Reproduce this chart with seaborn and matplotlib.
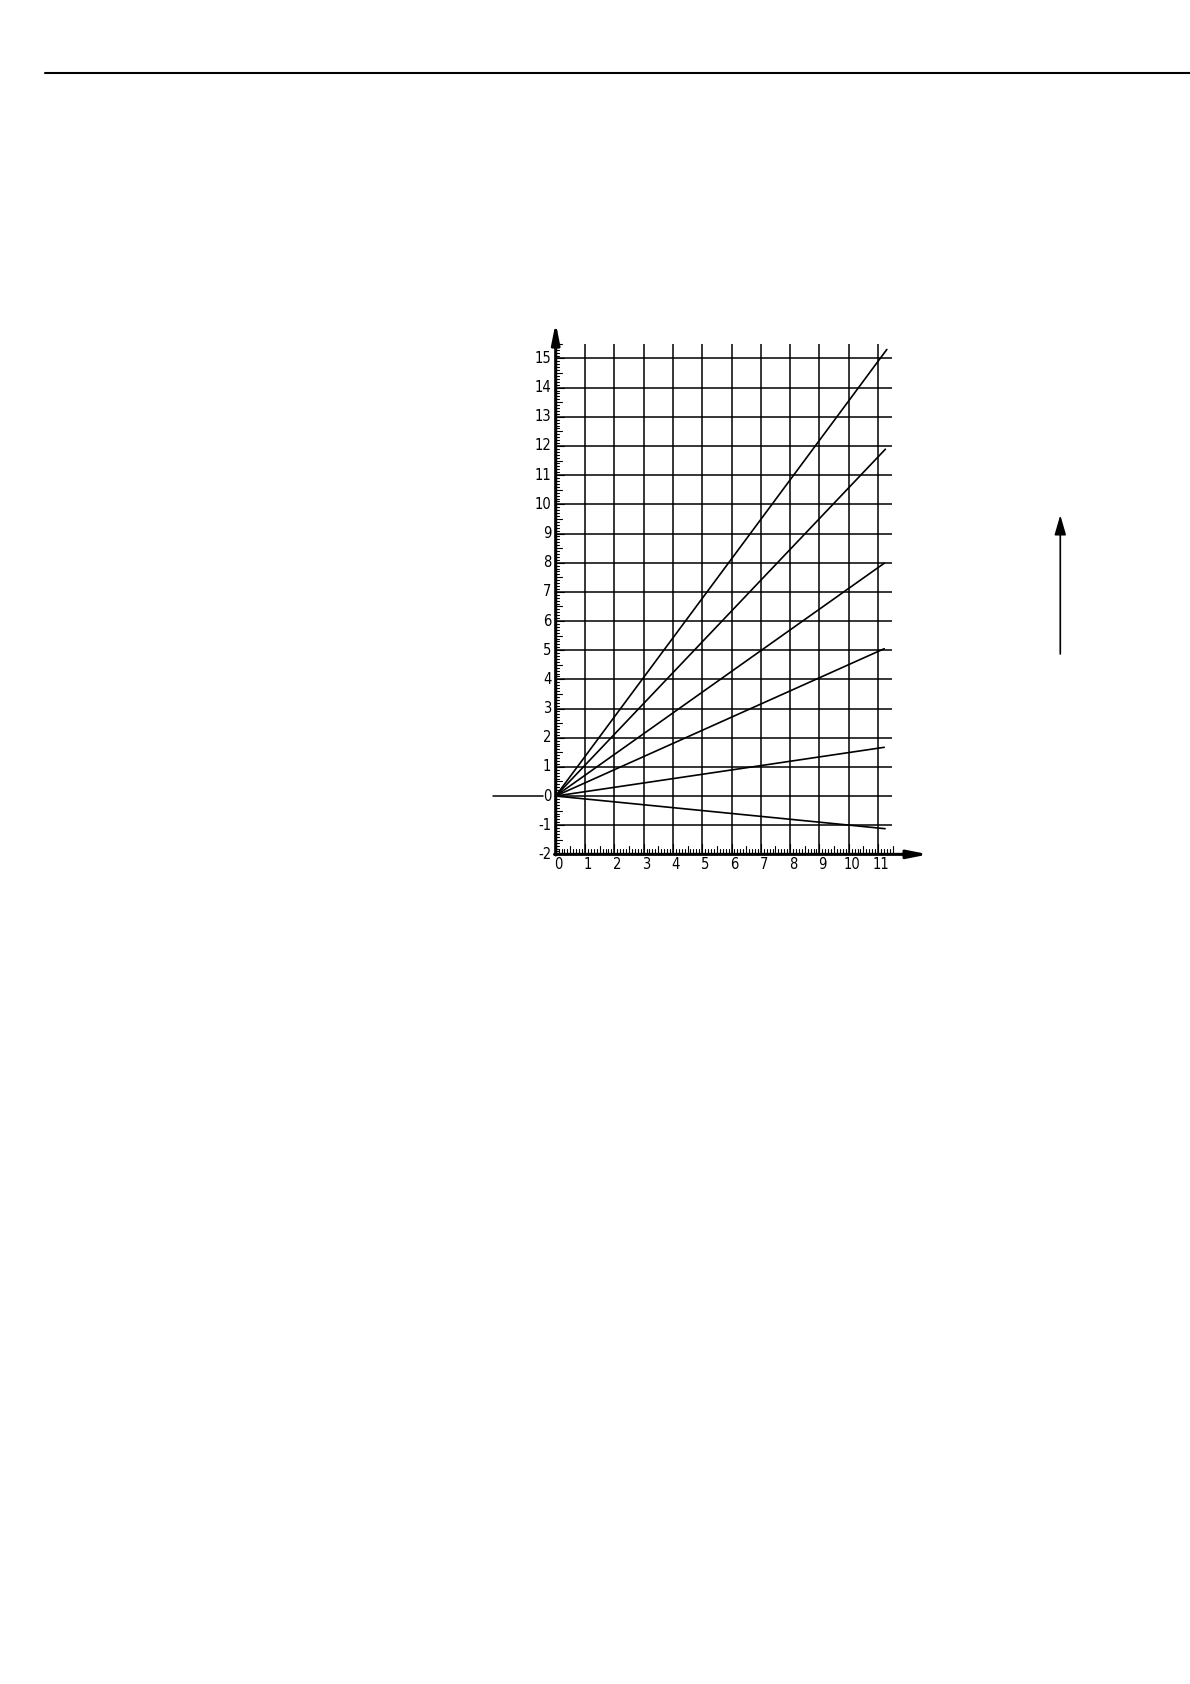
import numpy as np
import pandas as pd
import matplotlib
matplotlib.use("Agg")
import matplotlib.pyplot as plt
from matplotlib import font_manager
import seaborn as sns

# rays from the origin, end points
ray_end_x = [11.30, 11.25, 11.21, 11.21, 11.21, 11.24]
ray_end_y = [15.31, 11.89, 7.98, 5.05, 1.67, -1.12]

x_ticks = list(range(0, 12))
y_ticks = list(range(-2, 16))
x_tick_labels = [str(v) for v in x_ticks]
y_tick_labels = [str(v) for v in y_ticks]

sns.set_theme(style="white")
plt.rcParams["font.family"] = ["DejaVu Sans"]

# narrow face for the digits if one is around
names = {f.name for f in font_manager.fontManager.ttflist}
if "Liberation Sans Narrow" in names:
    digit_font = dict(family="Liberation Sans Narrow", fontsize=11.5)
else:
    digit_font = dict(family="DejaVu Sans", fontsize=10.5, fontstretch="condensed")

fig = plt.figure(figsize=(11.9, 16.84), dpi=100)
fig.patch.set_facecolor("white")

# axes placed so that one unit is ~29 px, origin at (556, 796) px
ax = fig.add_axes([0.4054, 0.4840, 0.3817, 0.3291])
ax.set_xlim(-2.5, 13.0)
ax.set_ylim(-2.5, 16.5)
ax.axis("off")

ink = "black"

# grid
ax.vlines(x_ticks[1:], -2, 15.5, color=ink, lw=1.1, zorder=1)
ax.hlines(y_ticks[1:], 0, 11.47, color=ink, lw=1.1, zorder=1)

# minor ticks along the y axis (inside) and x axis (above)
fine_y = np.round(np.arange(-2, 15.51, 0.1), 2)
for v in fine_y:
    if abs(v - round(v)) < 1e-6:
        ln = 0.30
    elif abs(v * 2 - round(v * 2)) < 1e-6:
        ln = 0.22
    else:
        ln = 0.12
    ax.plot([0, ln], [v, v], color=ink, lw=0.8, zorder=2)
fine_x = np.round(np.arange(0, 11.51, 0.1), 2)
for v in fine_x:
    if abs(v - round(v)) < 1e-6:
        ln = 0.35
    elif abs(v * 2 - round(v * 2)) < 1e-6:
        ln = 0.28
    else:
        ln = 0.17
    ax.plot([v, v], [-2, -2 + ln], color=ink, lw=0.8, zorder=2)

# main axes with arrows
ax.annotate("", xy=(0, 16.23), xytext=(0, -2.02),
            arrowprops=dict(arrowstyle="-|>,head_length=1.0,head_width=0.2",
                            color=ink, lw=2.2, shrinkA=0, shrinkB=0), zorder=4)
ax.annotate("", xy=(12.72, -2), xytext=(-0.04, -2),
            arrowprops=dict(arrowstyle="-|>,head_length=1.0,head_width=0.2",
                            color=ink, lw=2.2, shrinkA=0, shrinkB=0), zorder=4)

# short lead-in line at zero, left of the axis
ax.plot([-2.13, -0.42], [0, 0], color=ink, lw=1.1)

# rays
for ex, ey in zip(ray_end_x, ray_end_y):
    df = pd.DataFrame({"x": [0.0, ex], "y": [0.0, ey]})
    sns.lineplot(data=df, x="x", y="y", ax=ax, color=ink, lw=1.2, zorder=3)
ax.set_xlabel("")
ax.set_ylabel("")

# tick labels
for v, lab in zip(y_ticks, y_tick_labels):
    ax.text(-0.15, v, lab, ha="right", va="center", color=ink, **digit_font)
for v, lab in zip(x_ticks, x_tick_labels):
    ax.text(v + 0.1, -2.36, lab, ha="center", va="center", color=ink, **digit_font)

# rule at top of the page
fig.add_artist(plt.Line2D([0.0378, 1.0], [0.9565, 0.9565],
                          transform=fig.transFigure, color=ink, lw=1.5))

# free-standing arrow on the right
fig.add_artist(matplotlib.patches.FancyArrowPatch(
    (0.891, 0.610), (0.891, 0.6958), transform=fig.transFigure,
    arrowstyle="-|>,head_length=12,head_width=3.5", mutation_scale=1,
    color=ink, lw=1.2))

fig.savefig("out.png", dpi=100, facecolor="white")
